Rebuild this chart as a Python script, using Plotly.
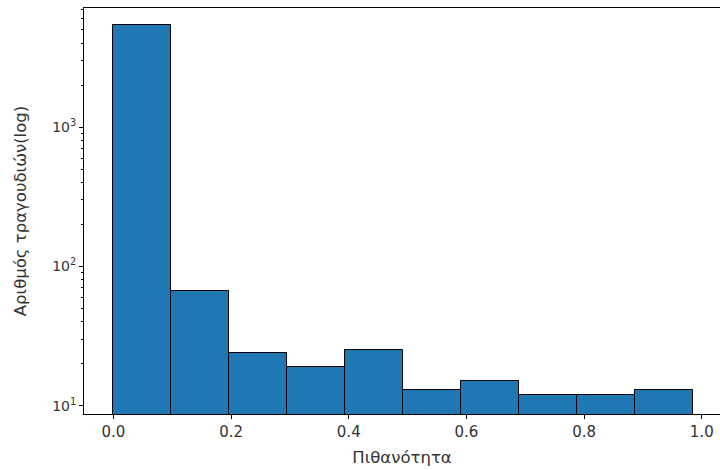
import plotly.graph_objects as go

bin_left = [0.0, 0.0985, 0.197, 0.2955, 0.394, 0.4925, 0.591, 0.6895, 0.788, 0.8865]
bin_width = 0.0985
counts = [5420, 67, 24, 19, 25, 13, 15, 12, 12, 13]
x_ticks = [0.0, 0.2, 0.4, 0.6, 0.8, 1.0]
y_ticks = [10, 100, 1000]
y_tick_text = ["10<sup>1</sup>", "10<sup>2</sup>", "10<sup>3</sup>"]
y_minor_ticks = [20, 30, 40, 50, 60, 70, 80, 90,
                 200, 300, 400, 500, 600, 700, 800, 900,
                 2000, 3000, 4000, 5000, 6000, 7000]

centers = [b + bin_width / 2 for b in bin_left]

fig = go.Figure()
fig.add_trace(go.Bar(
    x=centers, y=counts, width=[bin_width] * len(counts),
    marker=dict(color="#1f77b4", line=dict(color="black", width=1)),
    showlegend=False,
))

tick_font = dict(family="DejaVu Sans", size=15, color="#333333")
title_font = dict(family="DejaVu Sans", size=16.5, color="#333333")
fig.update_layout(
    width=720, height=470,
    margin=dict(l=84, r=0, t=8, b=56),
    paper_bgcolor="white", plot_bgcolor="white",
    font=tick_font,
    bargap=0,
)
fig.update_xaxes(
    range=[-0.05, 1.031],
    tickvals=x_ticks, ticktext=[f"{v:.1f}" for v in x_ticks],
    tickfont=tick_font,
    ticks="outside", ticklen=4, tickcolor="black", tickwidth=1,
    showline=True, linecolor="black", linewidth=1, mirror=True,
    showgrid=False, zeroline=False,
    title=dict(text="Πιθανότητα", font=title_font, standoff=11),
)
fig.update_yaxes(
    type="log", range=[0.940, 3.856],
    tickvals=y_ticks, ticktext=y_tick_text,
    tickfont=dict(family="DejaVu Sans", size=14, color="#333333"),
    ticks="outside", ticklen=4, tickcolor="black", tickwidth=1,
    minor=dict(tickmode="array", tickvals=y_minor_ticks,
               ticks="outside", ticklen=2, tickcolor="black", tickwidth=1,
               showgrid=False),
    showline=True, linecolor="black", linewidth=1,
    showgrid=False, zeroline=False,
    title=dict(text="Αριθμός τραγουδιών(log)", font=title_font, standoff=21),
)

fig.write_html("out.html")
